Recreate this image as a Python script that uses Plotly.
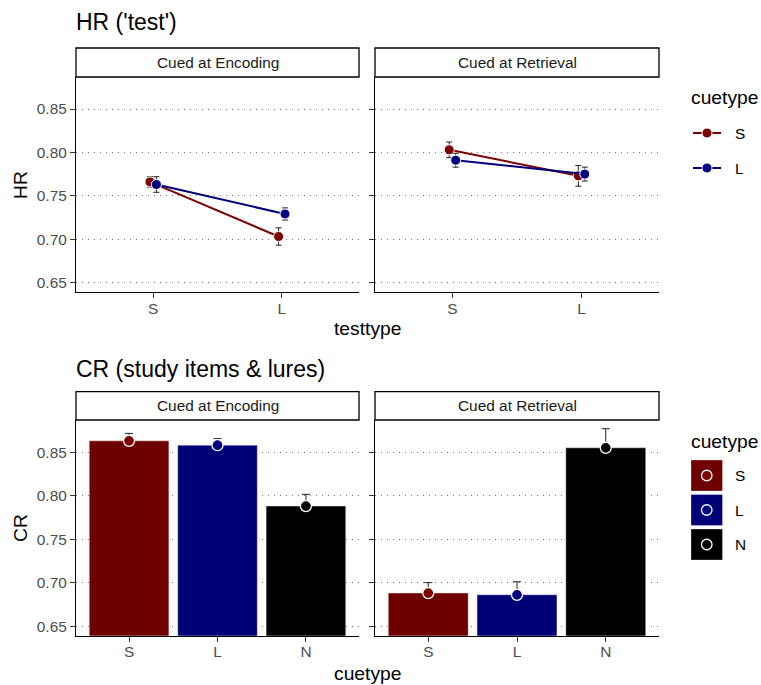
import plotly.graph_objects as go

# ---------------- data ----------------
testtypes = ["S", "L"]
hr_cuetypes = ["S", "L"]
cr_cuetypes = ["S", "L", "N"]
panels = ["Cued at Encoding", "Cued at Retrieval"]

hr_enc_S = [0.766, 0.703]
hr_enc_S_se = [0.006, 0.010]
hr_enc_L = [0.763, 0.729]
hr_enc_L_se = [0.009, 0.007]
hr_ret_S = [0.803, 0.773]
hr_ret_S_se = [0.009, 0.012]
hr_ret_L = [0.791, 0.775]
hr_ret_L_se = [0.008, 0.008]

cr_enc = [0.863, 0.858, 0.788]
cr_enc_se = [0.0086, 0.0076, 0.0135]
cr_ret = [0.688, 0.686, 0.855]
cr_ret_se = [0.012, 0.015, 0.022]

y_ticks = [0.65, 0.70, 0.75, 0.80, 0.85]

# ---------------- styles ----------------
W, H = 761, 685
FONT = "Liberation Sans, Arial, Helvetica, sans-serif"
pt_col = {"S": "#7D0000", "L": "#000080", "N": "#000000"}
bar_col = {"S": "#6F0000", "L": "#000077", "N": "#000000"}
YR = [0.639, 0.887]


def fx(px):
    return px / W


def fy(py):
    return 1 - py / H


fig = go.Figure()

# ---------------- top: HR lines ----------------
dodge = {"S": -0.025, "L": 0.025}
hr_sets = [
    ({"S": (hr_enc_S, hr_enc_S_se), "L": (hr_enc_L, hr_enc_L_se)}, "x", "y"),
    ({"S": (hr_ret_S, hr_ret_S_se), "L": (hr_ret_L, hr_ret_L_se)}, "x2", "y2"),
]
for data, xa, ya in hr_sets:
    for ct in hr_cuetypes:
        vals, se = data[ct]
        xs = [i + 1 + dodge[ct] for i in range(len(testtypes))]
        fig.add_trace(go.Scatter(
            x=xs, y=vals, xaxis=xa, yaxis=ya, mode="lines+markers",
            line=dict(color=pt_col[ct], width=2),
            marker=dict(color=pt_col[ct], size=10, line=dict(color="white", width=1)),
            error_y=dict(type="data", array=se, visible=True, color="#222222",
                         thickness=1, width=3),
            showlegend=False, hoverinfo="skip"))

# ---------------- bottom: CR bars ----------------
for vals, se, xa, ya in [(cr_enc, cr_enc_se, "x3", "y3"), (cr_ret, cr_ret_se, "x4", "y4")]:
    xs = [i + 1 for i in range(len(cr_cuetypes))]
    fig.add_trace(go.Bar(
        x=xs, y=vals, xaxis=xa, yaxis=ya, width=0.9,
        marker=dict(color=[bar_col[c] for c in cr_cuetypes],
                    line=dict(color="rgba(255,255,255,0.6)", width=0.6)),
        showlegend=False, hoverinfo="skip"))
    fig.add_trace(go.Scatter(
        x=xs, y=vals, xaxis=xa, yaxis=ya, mode="markers",
        marker=dict(color=[pt_col[c] for c in cr_cuetypes], size=11,
                    line=dict(color="white", width=1.3)),
        error_y=dict(type="data", symmetric=False, array=se,
                     arrayminus=[0] * len(se), visible=True,
                     color="#222222", thickness=1, width=4),
        showlegend=False, hoverinfo="skip"))

# ---------------- axes ----------------
panel_x = [(76, 359), (375, 659)]
top_y = (77, 292)
bot_y = (420, 635.7)

axis_common = dict(showline=True, linecolor="black", linewidth=1.3,
                   ticks="outside", ticklen=5, tickcolor="#333333", tickwidth=1,
                   tickfont=dict(size=15.4, color="#4D4D4D", family=FONT),
                   zeroline=False, fixedrange=True)

layout_axes = {}
for k, (ax_name, ay_name, (x0, x1), (y0, y1), ncat, cats, show_y) in enumerate([
    ("xaxis", "yaxis", panel_x[0], top_y, 2, testtypes, True),
    ("xaxis2", "yaxis2", panel_x[1], top_y, 2, testtypes, False),
    ("xaxis3", "yaxis3", panel_x[0], bot_y, 3, cr_cuetypes, True),
    ("xaxis4", "yaxis4", panel_x[1], bot_y, 3, cr_cuetypes, False),
]):
    yname = "y" if k == 0 else f"y{k+1}"
    xname = "x" if k == 0 else f"x{k+1}"
    layout_axes[ax_name] = dict(
        axis_common, domain=[fx(x0), fx(x1)], anchor=yname,
        range=[0.4, ncat + 0.6], tickvals=list(range(1, ncat + 1)),
        ticktext=cats, showgrid=False, ticklabelstandoff=-3)
    layout_axes[ay_name] = dict(
        axis_common, domain=[fy(y1), fy(y0)], anchor=xname,
        range=YR, tickvals=y_ticks, ticktext=[f"{v:.2f}" for v in y_ticks],
        showticklabels=show_y, showgrid=True, gridcolor="#7A7A7A",
        gridwidth=1, griddash="1px,5px")

fig.update_layout(**layout_axes)

# ---------------- strips, titles, legends ----------------
shapes = []
annotations = []

for (y0, y1) in [(48, 77), (391.7, 420)]:
    for (x0, x1), label in zip(panel_x, panels):
        shapes.append(dict(type="rect", xref="paper", yref="paper",
                           x0=fx(x0), x1=fx(x1), y0=fy(y1), y1=fy(y0),
                           line=dict(color="black", width=1.3), fillcolor="white"))
        annotations.append(dict(text=label, xref="paper", yref="paper",
                                x=fx((x0 + x1) / 2), y=fy((y0 + y1) / 2),
                                showarrow=False, xanchor="center", yanchor="middle",
                                font=dict(size=15.4, color="#1A1A1A", family=FONT)))


def text(t, x, y, size, xanchor="left", color="black", angle=0):
    annotations.append(dict(text=t, xref="paper", yref="paper", x=fx(x), y=fy(y),
                            showarrow=False, xanchor=xanchor, yanchor="middle",
                            textangle=angle,
                            font=dict(size=size, color=color, family=FONT)))


text("HR ('test')", 74, 22, 23)
text("CR (study items & lures)", 74, 369, 23)
text("testtype", 367, 329, 19.25, xanchor="center")
text("cuetype", 367, 673, 19.25, xanchor="center")
text("HR", 20, 185, 19.25, xanchor="center", angle=-90)
text("CR", 20, 528, 19.25, xanchor="center", angle=-90)

# top legend (line + point keys)
text("cuetype", 689, 98, 19.25)
for ct, yy in zip(hr_cuetypes, [133, 168]):
    shapes.append(dict(type="line", xref="paper", yref="paper",
                       x0=fx(693), x1=fx(721), y0=fy(yy), y1=fy(yy),
                       line=dict(color=pt_col[ct], width=2)))
    shapes.append(dict(type="circle", xref="paper", yref="paper",
                       x0=fx(702), x1=fx(712), y0=fy(yy + 5), y1=fy(yy - 5),
                       fillcolor=pt_col[ct], line=dict(color="white", width=1)))
    text(ct, 733, yy, 15.4)

# bottom legend (filled boxes with open points)
text("cuetype", 689, 441, 19.25)
for ct, (ya, yb) in zip(cr_cuetypes, [(460, 491), (494.5, 525.5), (529, 560)]):
    shapes.append(dict(type="rect", xref="paper", yref="paper",
                       x0=fx(691), x1=fx(722.5), y0=fy(yb), y1=fy(ya),
                       fillcolor=bar_col[ct], line=dict(color="rgba(255,255,255,0.5)", width=0.6)))
    yc = (ya + yb) / 2
    shapes.append(dict(type="circle", xref="paper", yref="paper",
                       x0=fx(701.5), x1=fx(712), y0=fy(yc + 5.25), y1=fy(yc - 5.25),
                       fillcolor=pt_col[ct], line=dict(color="white", width=1.3)))
    text(ct, 733, yc, 15.4)

fig.update_layout(
    width=W, height=H, margin=dict(l=0, r=0, t=0, b=0),
    paper_bgcolor="white", plot_bgcolor="white",
    font=dict(family=FONT), showlegend=False, bargap=0.1,
    shapes=shapes, annotations=annotations)

fig.write_html("out.html")
